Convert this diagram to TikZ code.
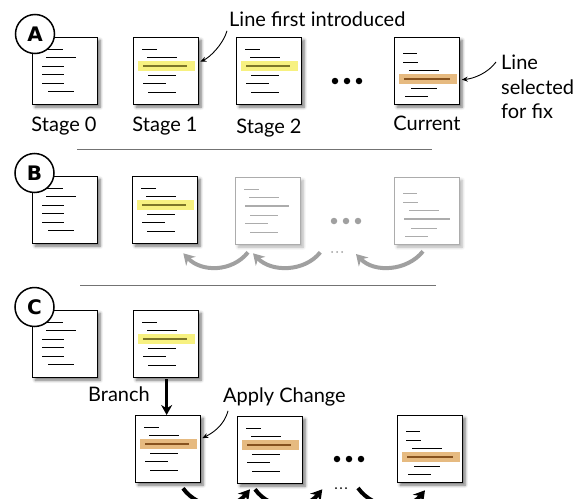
\documentclass[tikz,border=0pt]{standalone}
\usepackage{fontspec}
\setmainfont{Lato}
\newfontfamily\circfont{DejaVu Sans}
\usetikzlibrary{arrows.meta,shadows.blur,calc}
\definecolor{hlyellow}{RGB}{247,241,128}
\definecolor{hlorange}{RGB}{230,186,128}
\definecolor{oliveline}{RGB}{125,118,40}
\definecolor{brownline}{RGB}{135,82,30}
\definecolor{fade}{RGB}{172,172,172}
\definecolor{arrowgray}{RGB}{160,160,160}
\definecolor{seprule}{RGB}{115,115,115}
\tikzset{
  docbase/.style={draw=black, line width=1.3pt, fill=white, minimum width=65pt,
    minimum height=67pt, inner sep=0pt},
  docbox/.style={docbase, blur shadow={shadow xshift=2.5pt, shadow yshift=-2.5pt,
    shadow blur radius=3pt, shadow blur steps=6, shadow opacity=55}},
  fadedoc/.style={docbase, draw=fade, blur shadow={shadow xshift=2.5pt, shadow yshift=-2.5pt,
    shadow blur radius=3pt, shadow blur steps=6, shadow opacity=30}},
  docline/.style={line width=1pt},
  midline/.style={line width=1.3pt},
  lbl/.style={inner sep=0pt, font=\fontsize{20}{24.5}\selectfont},
  circ/.style={circle, draw=black, line width=1.5pt, fill=white, minimum size=39pt,
    inner sep=0pt, font=\circfont\bfseries\fontsize{20}{20}\selectfont},
  note/.style={line width=0.9pt, -{Stealth[length=6pt,width=5pt]}},
  grayarr/.style={line width=4pt, arrowgray, -{Stealth[length=11pt,width=13pt]}},
  blackarr/.style={line width=4pt, black, -{Stealth[length=11pt,width=13pt]}},
  sep/.style={line width=1pt, seprule},
  bigdot/.style={circle, inner sep=0pt, minimum size=6.5pt},
  smalldot/.style={circle, inner sep=0pt, minimum size=2pt},
}
% stage-0 style text lines
\newcommand\zerolines[2]{%
  \begin{scope}[shift={(#1.north west)}]
    \draw[docline,#2] (14,12)--(31,12) (14,20)--(44,20) (10,29)--(32,29)
      (10,37)--(32,37) (10,46)--(32,46) (16,54)--(42,54);
  \end{scope}}
% stage-1/2 style text lines: name, line colour, highlight fill, mid colour
\newcommand\onelines[4]{%
  \begin{scope}[shift={(#1.north west)}]
    \path[fill=#3] (5,24) rectangle (62,34);
    \draw[midline,#4] (10,29)--(54,29);
    \draw[docline,#2] (9,12)--(24,12) (14,20)--(44,20) (15,38)--(43,38)
      (10,46)--(33,46) (15,55)--(43,55);
  \end{scope}}
% current-style text lines
\newcommand\curlines[4]{%
  \begin{scope}[shift={(#1.north west)}]
    \path[fill=#3] (5,37) rectangle (63,47);
    \draw[midline,#4] (10,42)--(56,42);
    \draw[docline,#2] (9,16)--(23,16) (9,25)--(24,25) (15,33)--(45,33)
      (17,51)--(43,51) (11,59)--(34,59);
  \end{scope}}
\begin{document}
\begin{tikzpicture}[x=1pt,y=-1pt]
\useasboundingbox (0,0) rectangle (578,498);
\clip (0,0) rectangle (578,498);

% ---------- Row A ----------
\node[docbox, anchor=north west] (a0) at (32,37) {};
\node[docbox, anchor=north west] (a1) at (133,37) {};
\node[docbox, anchor=north west] (a2) at (236,37) {};
\node[docbox, anchor=north west] (a3) at (394,37) {};
\zerolines{a0}{black}
\onelines{a1}{black}{hlyellow}{oliveline}
\onelines{a2}{black}{hlyellow}{oliveline}
\curlines{a3}{black}{hlorange}{brownline}
\node[circ] (ca) at (35,34) {A};
\node[bigdot, fill=black] (ad1) at (335,81) {};
\node[bigdot, fill=black] (ad2) at (347,81) {};
\node[bigdot, fill=black] (ad3) at (359,81) {};
\node[lbl, anchor=base] (s0) at (64,131) {Stage 0};
\node[lbl, anchor=base] (s1) at (165,131) {Stage 1};
\node[lbl, anchor=base] (s2) at (269,133) {Stage 2};
\node[lbl, anchor=base] (s3) at (427,130) {Current};
\node[lbl, anchor=base west] (lfi) at (229,26.5) {Line first introduced};
\node[lbl, anchor=north west, align=left] (lsf) at (501,55) {Line\\selected\\for fix};
\coordinate (lfitip) at ($(a1.east)+(1,-9.5)$);
\coordinate (lfist) at ($(lfi.south west)+(-2,4)$);
\draw[note] (lfist) .. controls +(-4,14) and +(9,-4) .. (lfitip);
\coordinate (lsftip) at ($(a3.east)+(1.5,8.5)$);
\coordinate (lsfst) at ($(lsf.north west)+(-5,7)$);
\draw[note] (lsfst) .. controls +(-8,11) and +(12,-1) .. (lsftip);
\coordinate (sepa1) at (77,149);
\coordinate (sepa2) at (432,149);
\draw[sep] (sepa1) -- (sepa2);

% ---------- Row B ----------
\node[docbox, anchor=north west] (b0) at (32,176) {};
\node[docbox, anchor=north west] (b1) at (132,176) {};
\node[fadedoc, anchor=north west] (b2) at (235,177) {};
\node[fadedoc, anchor=north west] (b3) at (394,177) {};
\zerolines{b0}{black}
\onelines{b1}{black}{hlyellow}{oliveline}
\onelines{b2}{fade}{none}{fade}
\curlines{b3}{fade}{none}{fade}
\node[circ] (cb) at (34.5,173) {B};
\node[bigdot, fill=arrowgray] (bd1) at (334,221) {};
\node[bigdot, fill=arrowgray] (bd2) at (346,221) {};
\node[bigdot, fill=arrowgray] (bd3) at (358,221) {};
\node[smalldot, fill=arrowgray] (bs1) at (332,252) {};
\node[smalldot, fill=arrowgray] (bs2) at (337,252) {};
\node[smalldot, fill=arrowgray] (bs3) at (342,252) {};
\coordinate (bg1s) at ($(b2.south west)+(13,7)$);
\coordinate (bg1e) at ($(b1.south east)+(-15,9)$);
\coordinate (bg2s) at ($(b2.south east)+(19,7)$);
\coordinate (bg2e) at ($(b2.south west)+(18,8)$);
\coordinate (bg3s) at ($(b3.south west)+(29,6)$);
\coordinate (bg3e) at ($(bs3)+(14,2)$);
\draw[grayarr] (bg1s) .. controls +(-16,20) and +(18,19) .. (bg1e);
\draw[grayarr] (bg2s) .. controls +(-16,20) and +(18,19) .. (bg2e);
\draw[grayarr] (bg3s) .. controls +(-16,20) and +(18,19) .. (bg3e);
\coordinate (sepb1) at (80,285);
\coordinate (sepb2) at (436,285);
\draw[sep] (sepb1) -- (sepb2);

% ---------- Row C ----------
\node[docbox, anchor=north west] (c0) at (32,310) {};
\node[docbox, anchor=north west] (c1) at (133,310) {};
\zerolines{c0}{black}
\onelines{c1}{black}{hlyellow}{oliveline}
\node[circ] (cc) at (34.5,307) {C};
\node[docbox, anchor=north west] (d0) at (135,415) {};
\node[docbox, anchor=north west] (d1) at (237,416) {};
\node[docbox, anchor=north west] (d2) at (397,415) {};
\onelines{d0}{black}{hlorange}{brownline}
\onelines{d1}{black}{hlorange}{brownline}
\curlines{d2}{black}{hlorange}{brownline}
\node[bigdot, fill=black] (cd1) at (337,459) {};
\node[bigdot, fill=black] (cd2) at (349,459) {};
\node[bigdot, fill=black] (cd3) at (361,459) {};
\node[smalldot, fill=black] (cs1) at (336,488) {};
\node[smalldot, fill=black] (cs2) at (341,488) {};
\node[smalldot, fill=black] (cs3) at (346,488) {};
\node[lbl, anchor=base] (br) at (119,401.5) {Branch};
\node[lbl, anchor=base west] (ac) at (223,402) {Apply Change};
\coordinate (brs) at ($(c1.south)+(0.5,1)$);
\draw[line width=3pt, -{Stealth[length=10pt,width=11pt]}] (brs) -- (brs |- d0.north);
\coordinate (actip) at ($(d0.east)+(1,-11)$);
\coordinate (acst) at ($(ac.south west)+(5,5)$);
\draw[note] (acst) .. controls +(-4,15) and +(10,-5) .. (actip);
\coordinate (k1s) at ($(d0.south west)+(48,5)$);
\coordinate (k1e) at ($(d1.south west)+(13,5)$);
\coordinate (k2s) at ($(d1.south west)+(18,5)$);
\coordinate (k2e) at ($(d1.south east)+(19,5)$);
\coordinate (k3s) at ($(cs3)+(12,0)$);
\coordinate (k3e) at ($(d2.south west)+(28,7)$);
\draw[blackarr] (k1s) .. controls +(16,22) and +(-18,22) .. (k1e);
\draw[blackarr] (k2s) .. controls +(16,22) and +(-18,22) .. (k2e);
\draw[blackarr] (k3s) .. controls +(16,22) and +(-18,22) .. (k3e);
\end{tikzpicture}
\end{document}
